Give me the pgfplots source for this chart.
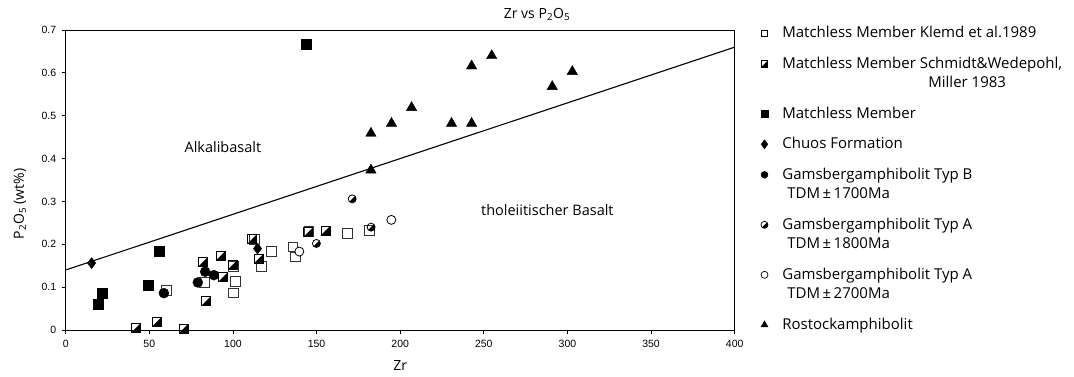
\documentclass[border=0pt]{standalone}
\usepackage{fontspec}
\setmainfont{Open Sans}
\newfontfamily\tickfont{Liberation Sans}
\usepackage{pgfplots}
\pgfplotsset{compat=1.18}

\pgfdeclareplotmark{halfsquare}{%
  \pgfpathmoveto{\pgfqpoint{-\pgfplotmarksize}{-\pgfplotmarksize}}%
  \pgfpathlineto{\pgfqpoint{\pgfplotmarksize}{-\pgfplotmarksize}}%
  \pgfpathlineto{\pgfqpoint{\pgfplotmarksize}{\pgfplotmarksize}}%
  \pgfpathclose
  \pgfsetfillcolor{black}\pgfusepathqfill
  \pgfpathrectangle{\pgfqpoint{-\pgfplotmarksize}{-\pgfplotmarksize}}{\pgfqpoint{2\pgfplotmarksize}{2\pgfplotmarksize}}%
  \pgfusepathqstroke
}
\pgfdeclareplotmark{halfcircle}{%
  \pgfpathmoveto{\pgfpointpolar{45}{\pgfplotmarksize}}%
  \pgfpatharc{45}{-135}{\pgfplotmarksize}%
  \pgfpathclose
  \pgfsetfillcolor{black}\pgfusepathqfill
  \pgfpathcircle{\pgfpointorigin}{\pgfplotmarksize}%
  \pgfusepathqstroke
}
\newcommand{\LA}{\rule{0pt}{29pt}}% normal row
\newcommand{\LB}{\rule{0pt}{29pt}}% first line of two
\newcommand{\LC}{\rule{0pt}{18pt}}% second line

\begin{document}
\begin{tikzpicture}
\useasboundingbox (-65.7pt,-46pt) rectangle (1008.3pt,330pt);
\begin{axis}[
  at={(0pt,0pt)}, anchor=south west,
  scale only axis, width=669pt, height=300pt,
  xmin=0, xmax=400, ymin=0, ymax=0.7,
  xtick={0,50,100,150,200,250,300,350,400},
  ytick={0,0.1,0.2,0.3,0.4,0.5,0.6,0.7},
  yticklabels={0,0.1,0.2,0.3,0.4,0.5,0.6,0.7},
  tick align=outside, tick pos=left, major tick length=4pt,
  axis line style={line width=0.9pt},
  tick style={line width=0.8pt, black},
  /pgf/number format/assume math mode=true,
  tick label style={font=\tickfont\fontsize{10.5}{12}\selectfont},
  xticklabel style={yshift=-3pt},
  yticklabel style={xshift=-2pt},
  xlabel={Zr}, ylabel={P\textsubscript{2}O\textsubscript{5} (wt\%)},
  label style={font=\fontsize{14}{16}\selectfont},
  xlabel style={at={(axis description cs:0.5,-0.1167)}, anchor=center},
  ylabel style={at={(axis description cs:-0.0683,0.42)}, anchor=center},
  title={Zr vs P\textsubscript{2}O\textsubscript{5}},
  title style={font=\fontsize{14}{16}\selectfont, at={(axis description cs:0.7045,1)}, anchor=base, yshift=6pt},
  clip=false,
  legend style={at={(1.027,1.078)}, anchor=north west, draw=none, fill=none,
    font=\fontsize{15}{18}\selectfont, row sep=0pt, column sep=14pt,
    cells={anchor=base west}, nodes={inner sep=0pt}},
  legend image post style={yshift=4.5pt},
]
% line
\addplot[black, line width=1.1pt, forget plot] coordinates {(0,0.14) (400,0.66)};

% Klemd open squares
\addplot[only marks, mark=square*, mark size=4.8pt, mark options={fill=white, draw=black!80, line width=0.8pt}, forget plot] coordinates {
(60.1,0.093) (82.8,0.111) (101.6,0.113) (100.4,0.087) (100.4,0.149)
(112.8,0.211) (122.9,0.183) (117,0.148) (135.9,0.194) (137.5,0.171)
(145.5,0.230) (168.5,0.226) (181.6,0.232)
};
% Schmidt half squares
\addplot[only marks, mark=halfsquare, mark size=4.5pt, mark options={fill=white, draw=black, line width=0.8pt}, forget plot] coordinates {
(42.1,0.005) (54.5,0.019) (70.4,0.003) (84.0,0.068) (81.8,0.158)
(92.6,0.173) (94,0.123) (99.8,0.152) (111.4,0.212) (115.3,0.166)
(144.9,0.228) (155.3,0.232)
};
% Matchless filled squares
\addplot[only marks, mark=square*, mark size=5pt, mark options={fill=black, draw=black}, forget plot] coordinates {
(144,0.667) (56,0.184) (49.1,0.105) (21.9,0.086) (19.5,0.061)
};
% Chuos diamonds
\addplot[only marks, mark=diamond*, mark size=5.5pt, mark options={fill=black, draw=black}, forget plot] coordinates {
(15.5,0.156) (114.7,0.190)
};
% Typ B filled circles
\addplot[only marks, mark=*, mark size=5pt, mark options={fill=black, draw=black}, forget plot] coordinates {
(58.7,0.086) (79.0,0.111) (83.4,0.136) (88.6,0.128)
};
% Typ A 1800 half circles
\addplot[only marks, mark=halfcircle, mark size=4pt, mark options={fill=white, draw=black, line width=0.8pt}, forget plot] coordinates {
(171.3,0.306) (182.6,0.240) (149.9,0.202)
};
% Typ A 2700 open circles
\addplot[only marks, mark=*, mark size=4.5pt, mark options={fill=white, draw=black, line width=0.8pt}, forget plot] coordinates {
(194.7,0.257) (139.7,0.183)
};
% Rostock triangles
\addplot[only marks, mark=triangle*, mark size=6pt, mark options={fill=black, draw=black}, forget plot] coordinates {
(182.5,0.459) (194.8,0.482) (206.8,0.519) (230.7,0.482) (242.7,0.482)
(242.7,0.616) (254.7,0.640) (290.9,0.568) (302.9,0.603) (182.5,0.373)
};

\node[font=\fontsize{14.5}{17}\selectfont] at (axis cs:94,0.427) {Alkalibasalt};
\node[font=\fontsize{14.5}{17}\selectfont] at (axis cs:288,0.28) {tholeiitischer Basalt};

% legend
\addlegendimage{only marks, mark=square*, mark size=3.3pt, mark options={fill=white, draw=black, line width=0.7pt}}
\addlegendentry{\LA Matchless Member Klemd et al.1989}
\addlegendimage{only marks, mark=halfsquare, mark size=3.3pt, mark options={draw=black, line width=0.7pt}}
\addlegendentry{\LB Matchless Member Schmidt\&Wedepohl,}
\addlegendimage{empty legend}
\addlegendentry{\LC\hspace{146pt}Miller 1983}
\addlegendimage{only marks, mark=square*, mark size=3.3pt, mark options={fill=black, draw=black}}
\addlegendentry{\LA Matchless Member}
\addlegendimage{only marks, mark=diamond*, mark size=4.5pt, mark options={fill=black, draw=black}}
\addlegendentry{\LA Chuos Formation}
\addlegendimage{only marks, mark=*, mark size=3.5pt, mark options={fill=black, draw=black}}
\addlegendentry{\LB Gamsbergamphibolit Typ B}
\addlegendimage{empty legend}
\addlegendentry{\LC\hspace{5pt}TDM\,±\,1700Ma}
\addlegendimage{only marks, mark=halfcircle, mark size=3.5pt, mark options={draw=black, line width=0.7pt}}
\addlegendentry{\LB Gamsbergamphibolit Typ A}
\addlegendimage{empty legend}
\addlegendentry{\LC\hspace{5pt}TDM\,±\,1800Ma}
\addlegendimage{only marks, mark=*, mark size=3.5pt, mark options={fill=white, draw=black, line width=0.7pt}}
\addlegendentry{\LB Gamsbergamphibolit Typ A}
\addlegendimage{empty legend}
\addlegendentry{\LC\hspace{5pt}TDM\,±\,2700Ma}
\addlegendimage{only marks, mark=triangle*, mark size=4pt, mark options={fill=black, draw=black}}
\addlegendentry{\LA Rostockamphibolit}
\end{axis}
\end{tikzpicture}
\end{document}
